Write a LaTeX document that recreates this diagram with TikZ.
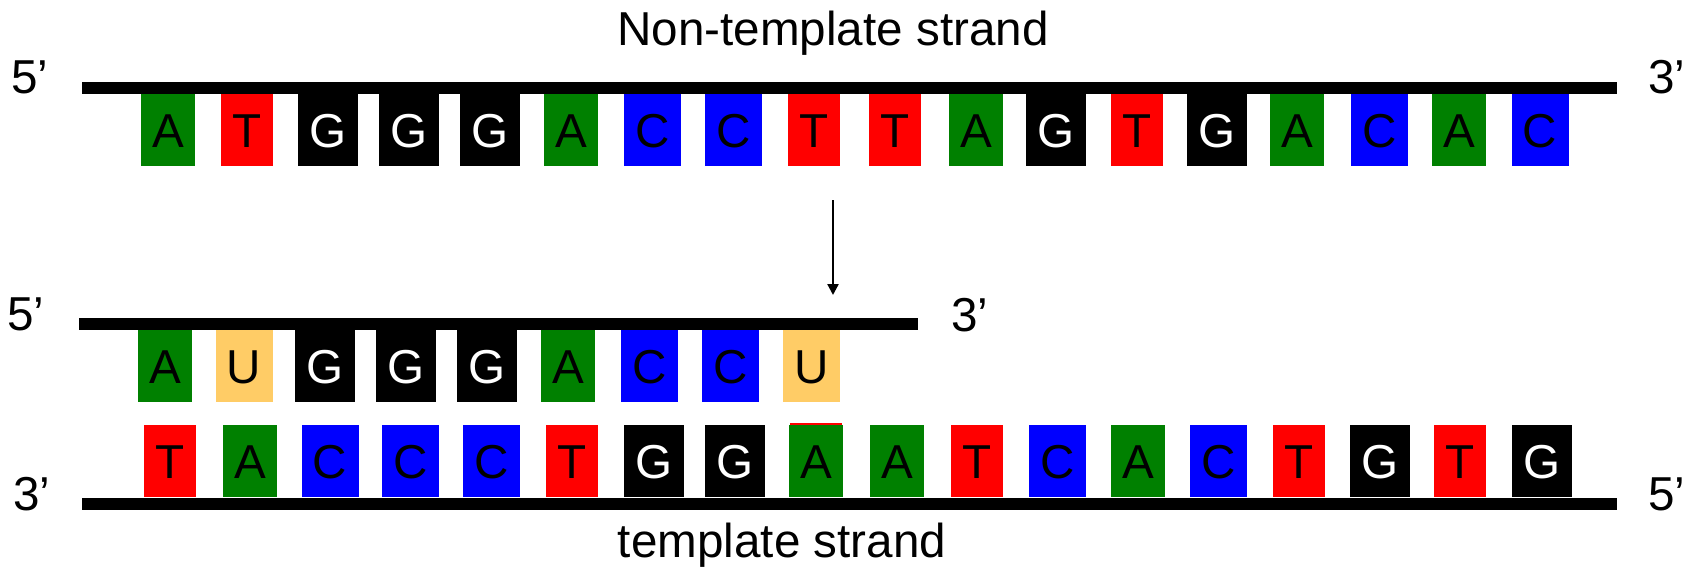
\documentclass[tikz,border=0pt]{standalone}
\usepackage{fontspec}
\setmainfont{Liberation Sans}
\usetikzlibrary{arrows.meta}
\definecolor{dgreen}{RGB}{0,128,0}
\definecolor{ucol}{RGB}{255,204,102}
\newcommand\basebox[4]{\node[n#3] (#4) at (#1,#2) {#3};}
\tikzset{
  base/.style={draw=none, inner sep=0pt, minimum height=72pt, text height=34.1pt, text depth=0pt,
               font=\fontsize{47.6}{50}\selectfont, anchor=center},
  nA/.style={base, fill=dgreen, text=black, minimum width=54pt},
  nT/.style={base, fill=red, text=black, minimum width=52pt},
  nG/.style={base, fill=black, text=white, minimum width=60pt},
  nC/.style={base, fill=blue, text=black, minimum width=57pt},
  nU/.style={base, fill=ucol, text=black, minimum width=57pt},
  bar/.style={draw=none, fill=black, inner sep=0pt, minimum height=12pt, anchor=north west},
  lab/.style={inner sep=0pt, anchor=base, font=\fontsize{47.6}{50}\selectfont},
}
\begin{document}
\begin{tikzpicture}[x=1pt,y=-1pt]
\useasboundingbox (0,0) rectangle (1694,567);
% strands
\node[bar, minimum width=1535pt] (topbar) at (82,82) {};
\node[bar, minimum width=839pt] (rnabar) at (79,318) {};
\node[bar, minimum width=1535pt] (botbar) at (82,498) {};
% labels
\node[lab] (title) at (833,46) {Non-template strand};
\node[lab] (tmpl) at (782,557) {template strand};
\node[lab] (t5) at (30,94) {5’};
\node[lab] (t3) at (1667,94) {3’};
\node[lab] (m5) at (26,330) {5’};
\node[lab] (m3) at (970,331) {3’};
\node[lab] (b3) at (32,510) {3’};
\node[lab] (b5) at (1667,510) {5’};
% non-template strand bases
\foreach \x/\l [count=\i] in {168/A,247/T,328/G,409/G,490/G,571/A,652.6/C,733.4/C,814/T,895/T,976/A,1056/G,1137/T,1217/G,1297/A,1379.5/C,1459/A,1540/C}
  {\edef\tmp{\noexpand\basebox{\x}{130}{\l}{t\i}}\tmp}
% RNA bases
\foreach \x/\l [count=\i] in {165/A,244/U,325/G,406/G,487/G,568/A,649.5/C,730.5/C,811.5/U}
  {\edef\tmp{\noexpand\basebox{\x}{366}{\l}{m\i}}\tmp}
% template strand bases
\fill[red] (790,423) rectangle (842,426);
\foreach \x/\l [count=\i] in {170/T,250/A,330/C,410.5/C,491.5/C,572/T,654/G,735/G,816/A,897/A,977/T,1057.5/C,1138/A,1218.6/C,1299/T,1380/G,1460/T,1542/G}
  {\edef\tmp{\noexpand\basebox{\x}{461}{\l}{b\i}}\tmp}
% arrow
\coordinate (arrS) at (833,200);
\coordinate (arrE) at (833,295);
\draw[line width=2.3pt, -{Triangle[width=11pt,length=11pt]}] (arrS) -- (arrE);
\end{tikzpicture}
\end{document}
